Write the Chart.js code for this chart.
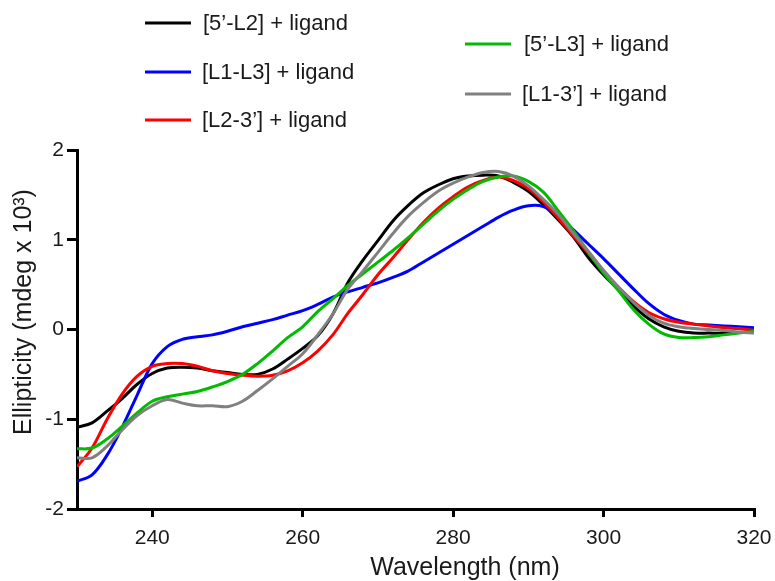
<!DOCTYPE html>
<html>
<head>
<meta charset="utf-8">
<script src="https://cdn.jsdelivr.net/npm/chart.js@4.4.0/dist/chart.umd.min.js"></script>
<style>
  body { margin: 0; background: #fff; }
  #wrap { width: 775px; height: 581px; position: relative; }
</style>
</head>
<body>
<div id="wrap"><canvas id="myChart"></canvas></div>
<script>
// wavelength in nm, one reading every 2 nm
const wavelength = [230,232,234,236,238,240,242,244,246,248,250,252,254,256,258,260,262,264,266,268,270,272,274,276,278,280,282,284,286,288,290,292,294,296,298,300,302,304,306,308,310,312,314,316,318,320];

// ellipticity, mdeg x 10^3
const s5L2 = [-1.09,-1.04,-0.91,-0.77,-0.61,-0.49,-0.43,-0.42,-0.43,-0.46,-0.48,-0.50,-0.50,-0.44,-0.33,-0.21,-0.07,0.17,0.52,0.77,0.99,1.21,1.38,1.52,1.61,1.68,1.71,1.72,1.71,1.64,1.54,1.39,1.22,1.03,0.80,0.61,0.44,0.26,0.12,0.03,-0.02,-0.04,-0.04,-0.04,-0.03,-0.03];
const sL1L3 = [-1.69,-1.62,-1.40,-1.09,-0.73,-0.38,-0.19,-0.11,-0.08,-0.06,-0.02,0.03,0.07,0.11,0.16,0.21,0.28,0.36,0.42,0.47,0.52,0.58,0.65,0.75,0.85,0.95,1.05,1.15,1.25,1.33,1.38,1.37,1.26,1.11,0.95,0.79,0.62,0.45,0.29,0.17,0.10,0.06,0.05,0.04,0.03,0.02];
const sL23 = [-1.53,-1.32,-1.00,-0.72,-0.52,-0.41,-0.38,-0.38,-0.41,-0.46,-0.49,-0.51,-0.52,-0.51,-0.46,-0.37,-0.24,-0.06,0.18,0.39,0.61,0.80,1.00,1.19,1.35,1.48,1.59,1.66,1.70,1.66,1.57,1.42,1.24,1.04,0.85,0.65,0.47,0.31,0.19,0.12,0.08,0.06,0.04,0.02,0.01,-0.01];
const s5L3 = [-1.33,-1.32,-1.22,-1.08,-0.93,-0.80,-0.75,-0.72,-0.69,-0.64,-0.58,-0.50,-0.38,-0.24,-0.09,0.03,0.20,0.34,0.49,0.62,0.75,0.88,1.02,1.17,1.32,1.45,1.56,1.65,1.70,1.71,1.65,1.53,1.32,1.10,0.86,0.63,0.43,0.22,0.06,-0.05,-0.09,-0.09,-0.08,-0.06,-0.04,-0.02];
const sL13 = [-1.43,-1.43,-1.30,-1.12,-0.96,-0.85,-0.78,-0.82,-0.85,-0.85,-0.86,-0.80,-0.68,-0.55,-0.41,-0.27,-0.06,0.17,0.45,0.65,0.86,1.07,1.26,1.41,1.54,1.63,1.70,1.75,1.76,1.71,1.60,1.45,1.28,1.07,0.87,0.66,0.47,0.30,0.16,0.07,0.03,0.01,0.00,-0.01,-0.03,-0.04];

const seriesLabels = ['[5\u2019-L2] + ligand', '[L1-L3] + ligand', '[L2-3\u2019] + ligand', '[5\u2019-L3] + ligand', '[L1-3\u2019] + ligand'];
const xTicks = [240, 260, 280, 300, 320];
const yTicks = [-2, -1, 0, 1, 2];

const FONT = "'Liberation Sans', Arial, sans-serif";
const colors = ['#000000', '#0000ff', '#ff0000', '#00bb00', '#808080'];
const drawOrder = [4, 3, 2, 1, 0]; // grey ends up on top

// where each legend entry sits (line start/end, text start, centre y)
const legendSlots = [
  { x1: 145, x2: 191, tx: 203, y: 23 },
  { x1: 145, x2: 191, tx: 202, y: 72 },
  { x1: 145, x2: 191, tx: 202, y: 120 },
  { x1: 465, x2: 511, tx: 524, y: 44 },
  { x1: 465, x2: 511, tx: 522, y: 94 }
];

function pts(vals) {
  return wavelength.map((w, i) => ({ x: w, y: vals[i] }));
}
const allSeries = [s5L2, sL1L3, sL23, s5L3, sL13];

const datasets = allSeries.map((vals, i) => ({
  label: seriesLabels[i],
  data: pts(vals),
  borderColor: colors[i],
  backgroundColor: colors[i],
  borderWidth: 3,
  pointRadius: 0,
  tension: 0.35,
  order: drawOrder[i]
}));

const extras = {
  id: 'extras',
  afterDraw(chart) {
    const ctx = chart.ctx;
    ctx.save();
    // legend
    ctx.font = '22px ' + FONT;
    ctx.textBaseline = 'middle';
    ctx.textAlign = 'left';
    chart.data.datasets.forEach((ds, i) => {
      const s = legendSlots[i];
      ctx.strokeStyle = ds.borderColor;
      ctx.lineWidth = 3;
      ctx.beginPath();
      ctx.moveTo(s.x1, s.y);
      ctx.lineTo(s.x2, s.y);
      ctx.stroke();
      ctx.fillStyle = '#1a1a1a';
      ctx.fillText(ds.label, s.tx, s.y + 1);
    });
    // axis titles
    ctx.font = '25px ' + FONT;
    ctx.textAlign = 'center';
    ctx.fillText('Wavelength (nm)', 465, 568);
    ctx.translate(24, 312);
    ctx.rotate(-Math.PI / 2);
    ctx.fillText('Ellipticity (mdeg x 10\u00b3)', 0, 0);
    ctx.restore();
  }
};

const config = {
  type: 'line',
  data: { datasets: datasets },
  options: {
    responsive: true,
    maintainAspectRatio: false,
    animation: false,
    layout: { padding: { top: 150, right: 21, left: 0, bottom: 0 } },
    plugins: { legend: { display: false }, tooltip: { enabled: false } },
    scales: {
      x: {
        type: 'linear',
        min: 230,
        max: 320,
        afterBuildTicks: s => { s.ticks = xTicks.map(v => ({ value: v })); },
        afterFit: s => { s.height = 72; s.paddingLeft = 0; s.paddingRight = 0; },
        grid: { drawOnChartArea: false, drawTicks: true, tickLength: 8, color: '#000', lineWidth: 3 },
        border: { color: '#000', width: 3 },
        ticks: { color: '#1a1a1a', font: { family: FONT, size: 21 }, padding: 9, maxRotation: 0 }
      },
      y: {
        min: -2,
        max: 2,
        afterBuildTicks: s => { s.ticks = yTicks.map(v => ({ value: v })); },
        afterFit: s => { s.width = 77; s.paddingTop = 0; s.paddingBottom = 0; },
        grid: { drawOnChartArea: false, drawTicks: true, tickLength: 10, color: '#000', lineWidth: 3 },
        border: { color: '#000', width: 3 },
        ticks: { color: '#1a1a1a', font: { family: FONT, size: 21 }, padding: 3 }
      }
    }
  },
  plugins: [extras]
};

const myChart = new Chart(document.getElementById('myChart'), config);
</script>
</body>
</html>
